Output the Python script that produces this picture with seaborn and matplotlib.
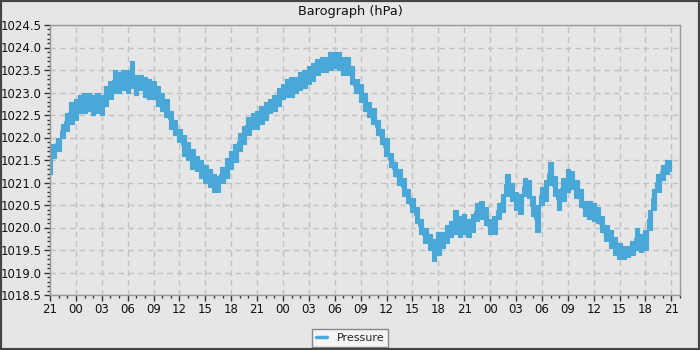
import numpy as np
import pandas as pd
import matplotlib
matplotlib.use("Agg")
import matplotlib.pyplot as plt
import matplotlib.dates as mdates
from matplotlib.patches import Rectangle
import seaborn as sns

# ---- data: half-hourly low / high readings, starting 21:00 ----
start_time = "2024-01-01 21:00"
step_minutes = 30
pressure_low = [
    1021.2, 1021.55, 1021.7, 1022.0, 1022.15, 1022.3, 1022.4, 1022.55, 1022.55, 1022.6,
    1022.5, 1022.55, 1022.5, 1022.7, 1022.85, 1023.0, 1023.0, 1023.05, 1023.0, 1023.1,
    1022.95, 1023.05, 1022.9, 1022.85, 1022.85, 1022.7, 1022.6, 1022.45, 1022.2, 1022.05,
    1021.9, 1021.6, 1021.5, 1021.3, 1021.25, 1021.1, 1021.0, 1020.9, 1020.8, 1020.8,
    1021.0, 1021.1, 1021.3, 1021.45, 1021.7, 1021.85, 1022.05, 1022.2, 1022.2, 1022.3,
    1022.4, 1022.55, 1022.6, 1022.7, 1022.85, 1022.9, 1022.9, 1023.0, 1023.05, 1023.1,
    1023.2, 1023.25, 1023.4, 1023.45, 1023.45, 1023.5, 1023.55, 1023.5, 1023.4, 1023.4,
    1023.2, 1023.0, 1022.8, 1022.6, 1022.45, 1022.3, 1022.05, 1021.85, 1021.6, 1021.35,
    1021.15, 1020.95, 1020.7, 1020.55, 1020.35, 1020.1, 1019.85, 1019.65, 1019.5, 1019.25,
    1019.4, 1019.55, 1019.65, 1019.8, 1019.85, 1019.8, 1019.85, 1019.8, 1019.9, 1020.15,
    1020.2, 1020.05, 1019.85, 1019.85, 1020.2, 1020.35, 1020.7, 1020.6, 1020.4, 1020.3,
    1020.7, 1020.65, 1020.25, 1019.9, 1020.5, 1020.6, 1020.95, 1020.7, 1020.4, 1020.6,
    1020.8, 1020.85, 1020.65, 1020.45, 1020.25, 1020.2, 1020.15, 1020.1, 1019.9, 1019.7,
    1019.55, 1019.4, 1019.3, 1019.3, 1019.35, 1019.4, 1019.5, 1019.45, 1019.5, 1019.95,
    1020.4, 1020.8, 1021.05, 1021.2, 1021.25,
]
pressure_high = [
    1021.85, 1021.85, 1022.0, 1022.3, 1022.55, 1022.8, 1022.85, 1022.95, 1023.0, 1023.0,
    1022.95, 1023.0, 1022.95, 1023.15, 1023.25, 1023.5, 1023.45, 1023.5, 1023.5, 1023.7,
    1023.4, 1023.4, 1023.35, 1023.3, 1023.25, 1023.15, 1023.0, 1022.85, 1022.6, 1022.4,
    1022.2, 1022.05, 1021.9, 1021.75, 1021.6, 1021.5, 1021.4, 1021.3, 1021.2, 1021.15,
    1021.35, 1021.55, 1021.7, 1021.85, 1022.1, 1022.25, 1022.45, 1022.55, 1022.6, 1022.7,
    1022.8, 1022.85, 1022.95, 1023.1, 1023.2, 1023.3, 1023.35, 1023.35, 1023.45, 1023.5,
    1023.6, 1023.65, 1023.75, 1023.8, 1023.8, 1023.9, 1023.9, 1023.9, 1023.8, 1023.8,
    1023.6, 1023.3, 1023.2, 1023.0, 1022.8, 1022.65, 1022.4, 1022.2, 1022.0, 1021.65,
    1021.45, 1021.3, 1021.1, 1020.85, 1020.65, 1020.45, 1020.2, 1020.0, 1019.85, 1019.75,
    1019.9, 1019.9, 1020.05, 1020.15, 1020.4, 1020.25, 1020.3, 1020.2, 1020.3, 1020.55,
    1020.6, 1020.45, 1020.2, 1020.25, 1020.55, 1020.75, 1021.2, 1021.0, 1020.8, 1020.75,
    1021.1, 1021.05, 1020.7, 1020.5, 1020.9, 1021.05, 1021.45, 1021.15, 1020.85, 1021.1,
    1021.3, 1021.25, 1021.05, 1020.85, 1020.6, 1020.6, 1020.55, 1020.45, 1020.25, 1020.05,
    1019.95, 1019.8, 1019.65, 1019.6, 1019.6, 1019.7, 1020.0, 1019.85, 1019.95, 1020.4,
    1020.85, 1021.2, 1021.4, 1021.5, 1021.5,
]
series_name = "Pressure"
title = "Barograph (hPa)"
y_min, y_max = 1018.5, 1024.5

times = pd.date_range(start_time, periods=len(pressure_low), freq=f"{step_minutes}min")
df = pd.DataFrame({
    "time": np.concatenate([times, times]),
    "pressure": pressure_low + pressure_high,
})

# ---- style ----
bg = "#e6e6e6"
line_color = "#4aa8d8"
sns.set_style("ticks")
plt.rcParams["font.family"] = ["DejaVu Sans"]

fig = plt.figure(figsize=(7, 3.5), dpi=100, facecolor=bg)
ax = fig.add_axes([50 / 700, 1 - 295 / 350, 630 / 700, 270 / 350])
ax.set_facecolor(bg)

sns.lineplot(data=df, x="time", y="pressure", ax=ax, color=line_color,
             linewidth=1.5, drawstyle="steps-mid", label=series_name,
             errorbar=("pi", 100),
             err_kws={"alpha": 1, "step": "mid", "linewidth": 0.8, "edgecolor": line_color})

t0 = pd.Timestamp(start_time)
ax.set_xlim(t0, t0 + pd.Timedelta(hours=73))
ax.set_ylim(y_min, y_max)

ax.xaxis.set_major_locator(mdates.HourLocator(byhour=range(0, 24, 3)))
ax.xaxis.set_major_formatter(mdates.DateFormatter("%H"))
ax.xaxis.set_minor_locator(mdates.HourLocator())
ax.yaxis.set_major_locator(matplotlib.ticker.MultipleLocator(0.5))
ax.yaxis.set_minor_locator(matplotlib.ticker.MultipleLocator(0.1))
ax.yaxis.set_major_formatter(matplotlib.ticker.FormatStrFormatter("%.1f"))

ax.tick_params(axis="both", which="major", length=4, width=1, color="#333333",
               labelsize=8.5, labelcolor="#111111", pad=2)
ax.tick_params(axis="both", which="minor", length=2, width=1, color="#333333")

ax.grid(True, which="major", linestyle=(0, (4, 3)), color="#c2c2c2", linewidth=1)
ax.set_axisbelow(True)
for s in ax.spines.values():
    s.set_color("#999999")
    s.set_linewidth(1)
ax.set_xlabel("")
ax.set_ylabel("")

fig.text(0.5, 1 - 12 / 350, title, ha="center", va="center", fontsize=9.3, color="#111111")

leg = ax.legend(loc="center", bbox_to_anchor=(0.5, 1 - 338 / 350), bbox_transform=fig.transFigure,
                fancybox=False, framealpha=1, facecolor="#f4f4f4", edgecolor="#888888",
                fontsize=8, handlelength=1.0, borderpad=0.35, handletextpad=0.9,
                borderaxespad=0)
leg.get_frame().set_linewidth(1)
for h in leg.get_lines():
    h.set_linewidth(2.5)

fig.patches.append(Rectangle((0, 0), 1, 1, transform=fig.transFigure, fill=False,
                             edgecolor="#444444", linewidth=3, zorder=10))

fig.savefig("out.png", dpi=100, facecolor=bg)
